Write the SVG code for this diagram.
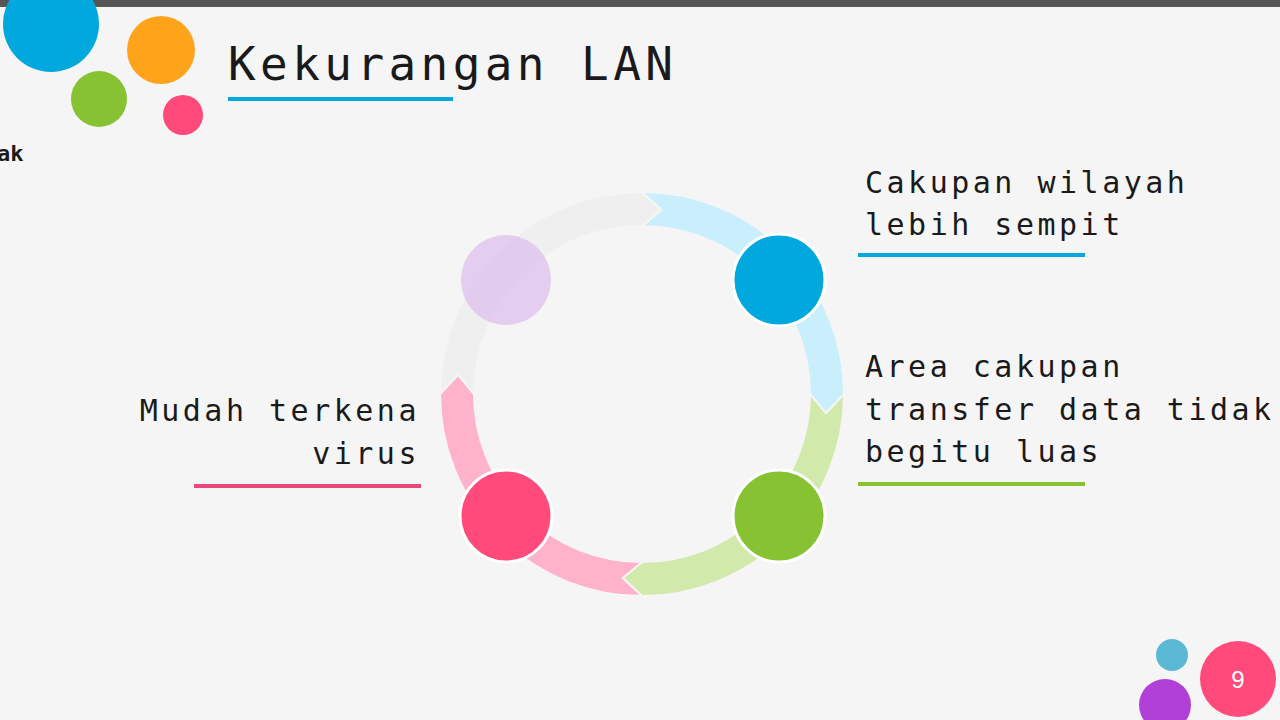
<svg xmlns="http://www.w3.org/2000/svg" width="1280" height="720" viewBox="0 0 1280 720">
<style>
.m{font-family:"DejaVu Sans Mono","Liberation Mono",monospace;fill:#1a1a1a}
.t{font-size:30px;letter-spacing:3.5px}
.seg{stroke:#f5f5f5;stroke-width:2}
.node{stroke:#fff;stroke-width:3}
</style>
<rect width="1280" height="720" fill="#f5f5f5"/>
<rect width="1280" height="7" fill="#555"/>
<g id="deco">
<circle cx="51" cy="24" r="48" fill="#00a8de"/>
<circle cx="161" cy="50" r="34" fill="#ffa31a"/>
<circle cx="99" cy="99" r="28" fill="#86c232"/>
<circle cx="183" cy="115" r="20" fill="#ff4a7b"/>
<circle cx="1172" cy="655" r="16" fill="#5ab8d4"/>
<circle cx="1165" cy="705" r="26" fill="#b040d8"/>
<circle cx="1238" cy="679" r="38" fill="#ff4a7b"/>
<text x="1238" y="688" text-anchor="middle" font-family="Liberation Sans,Arial,sans-serif" font-size="24" fill="#fff">9</text>
</g>
<text x="-3" y="161" font-family="DejaVu Sans Mono,monospace" font-weight="bold" font-size="22" fill="#1a1a1a">ak</text>
<g id="title">
<text class="m" x="228" y="80" font-size="46" letter-spacing="4.4">Kekurangan LAN</text>
<rect x="228" y="97" width="225" height="4" fill="#00a8de"/>
</g>
<g id="connectors">
<path class="seg" fill="#c9eefc" d="M642,192 A202,202 0 0 1 844,394 L826,413.3 L810,394 A168,168 0 0 0 642,226 L661.3,210 Z"/>
<path class="seg" fill="#d1e9ab" d="M844,394 A202,202 0 0 1 642,596 L622.7,578 L642,562 A168,168 0 0 0 810,394 L826,413.3 Z"/>
<path class="seg" fill="#ffb3cb" d="M642,596 A202,202 0 0 1 440,394 L458,374.7 L474,394 A168,168 0 0 0 642,562 L622.7,578 Z"/>
<path class="seg" fill="#efefef" d="M440,394 A202,202 0 0 1 642,192 L661.3,210 L642,226 A168,168 0 0 0 474,394 L458,374.7 Z"/>
</g>
<g id="node-purple"><circle cx="506" cy="280" r="45" fill="#dcc0ec" fill-opacity="0.75"/></g>
<g id="node-blue"><circle class="node" cx="779" cy="280" r="46" fill="#00a8de"/></g>
<g id="node-green"><circle class="node" cx="779" cy="516" r="46" fill="#86c232"/></g>
<g id="node-pink"><circle class="node" cx="506" cy="516" r="46" fill="#ff4a7b"/></g>
<g id="label-1">
<text class="m t" x="865" y="193">Cakupan wilayah</text>
<text class="m t" x="865" y="235">lebih sempit</text>
<rect x="858" y="253" width="227" height="4" fill="#00a8de"/>
</g>
<g id="label-2">
<text class="m t" x="865" y="377">Area cakupan</text>
<text class="m t" x="865" y="420">transfer data tidak</text>
<text class="m t" x="865" y="462">begitu luas</text>
<rect x="858" y="482" width="227" height="4" fill="#86c232"/>
</g>
<g id="label-3">
<text class="m t" x="420" y="421" text-anchor="end">Mudah terkena</text>
<text class="m t" x="420" y="464" text-anchor="end">virus</text>
<rect x="194" y="484" width="227" height="4" fill="#e8487a"/>
</g>
</svg>
